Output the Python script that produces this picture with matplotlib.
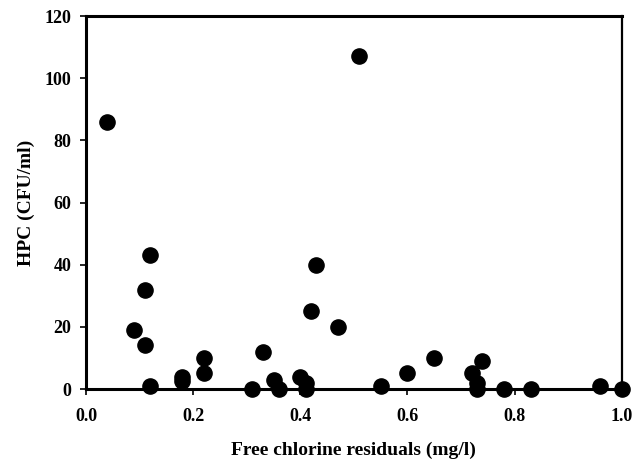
import matplotlib
matplotlib.use("Agg")
import matplotlib.pyplot as plt

chlorine = [0.04, 0.51, 0.09, 0.11, 0.12, 0.11, 0.12, 0.18, 0.18, 0.22, 0.22,
            0.31, 0.33, 0.35, 0.36, 0.40, 0.41, 0.41, 0.42, 0.43, 0.47,
            0.55, 0.60, 0.65, 0.72, 0.73, 0.73, 0.74, 0.78, 0.83, 0.96, 1.00]
hpc = [86, 107, 19, 32, 43, 14, 1, 4, 2.5, 10, 5,
       0, 12, 3, 0, 4, 2, 0, 25, 40, 20,
       1, 5, 10, 5, 2, 0, 9, 0, 0, 1, 0]

xticks = [0.0, 0.2, 0.4, 0.6, 0.8, 1.0]
yticks = [0, 20, 40, 60, 80, 100, 120]

plt.rcParams['font.family'] = ['Liberation Serif', 'DejaVu Serif']
plt.rcParams['font.weight'] = 'bold'

fig = plt.figure(figsize=(6.43, 4.59), dpi=100)
ax = fig.add_axes([0.1337, 0.1525, 0.967 - 0.1337, 0.965 - 0.1525])
ax.scatter(chlorine, hpc, s=120, color='black', zorder=3, clip_on=False)
ax.set_xlim(0, 1.0)
ax.set_ylim(0, 120)
ax.set_xticks(xticks)
ax.set_xticklabels([f"{t:.1f}" for t in xticks])
ax.set_yticks(yticks)
ax.set_yticklabels([str(t) for t in yticks])
for side in ['left', 'bottom', 'top']:
    ax.spines[side].set_linewidth(2.2)
ax.spines['right'].set_linewidth(1.6)
ax.tick_params(direction='out', length=4, width=1.2, labelsize=13)
ax.tick_params(axis='y', pad=6.5)
ax.tick_params(axis='x', pad=10)
ax.set_xlabel('Free chlorine residuals (mg/l)', fontsize=14, fontweight='bold', labelpad=12)
ax.set_ylabel('HPC (CFU/ml)', fontsize=14, fontweight='bold', labelpad=7)
fig.savefig('out.png', dpi=100)
